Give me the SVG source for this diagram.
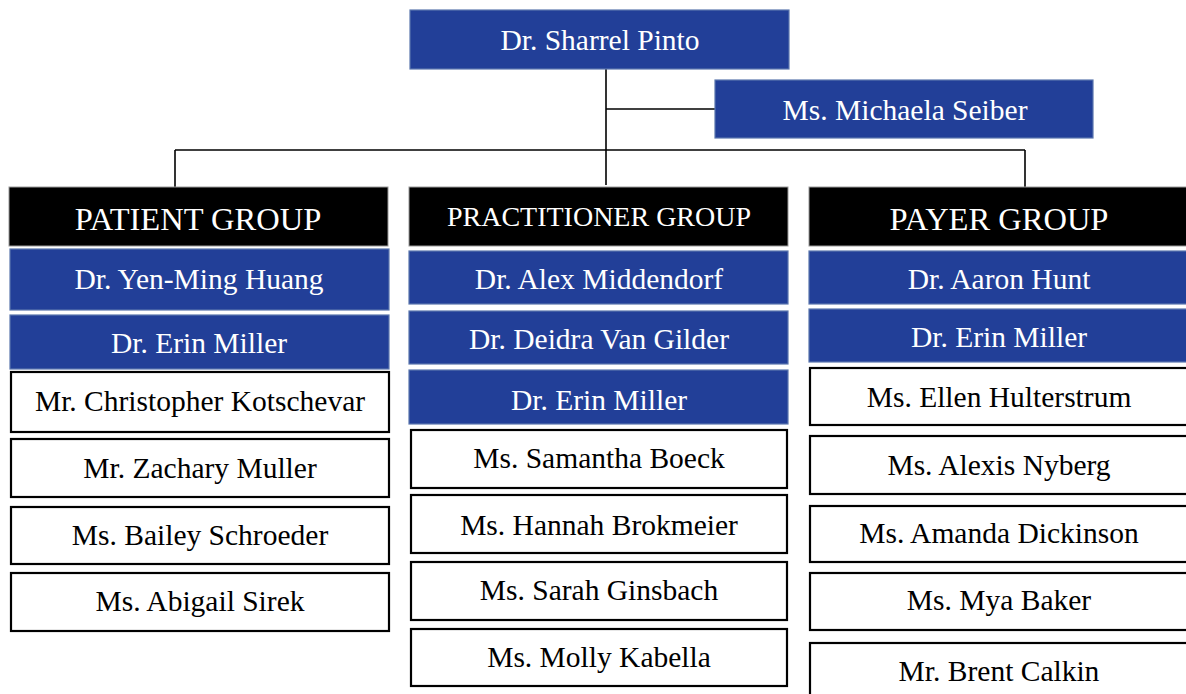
<svg xmlns="http://www.w3.org/2000/svg" width="1186" height="694" viewBox="0 0 1186 694">
<style>
text{font-family:"Liberation Serif","Times New Roman",serif;text-anchor:middle}
.b rect{fill:#223f98;stroke:#5a76ad;stroke-width:1.2}
.b text{fill:#fff;font-size:29.5px}
.h rect{fill:#000;stroke:#999;stroke-width:1}
.h text{fill:#fff;font-size:32.5px}
.w rect{fill:#fff;stroke:#000;stroke-width:2.2}
.w text{fill:#000;font-size:29.5px}
.c line{stroke:#000;stroke-width:1.6}
</style>
<rect width="1186" height="694" fill="#fff"/>
<g class="c" id="connectors">
<line x1="606" y1="69" x2="606" y2="185"/>
<line x1="606" y1="109" x2="715" y2="109"/>
<line x1="175" y1="150" x2="1025" y2="150"/>
<line x1="175" y1="150" x2="175" y2="187"/>
<line x1="1025" y1="150" x2="1025" y2="187"/>
</g>
<g id="n-pinto" class="b"><rect x="410" y="10" width="379" height="59"/><text x="600" y="50">Dr. Sharrel Pinto</text></g>
<g id="n-seiber" class="b"><rect x="715" y="80" width="378" height="58"/><text x="905" y="120">Ms. Michaela Seiber</text></g>

<g id="h-patient" class="h"><rect x="9" y="187" width="379" height="59"/><text x="198" y="230">PATIENT GROUP</text></g>
<g id="n-huang" class="b"><rect x="10" y="249" width="379" height="61"/><text x="199" y="289">Dr. Yen-Ming Huang</text></g>
<g id="n-miller1" class="b"><rect x="10" y="315" width="379" height="54"/><text x="199" y="353">Dr. Erin Miller</text></g>
<g id="n-kotschevar" class="w"><rect x="11" y="372" width="378" height="60"/><text x="200" y="411">Mr. Christopher Kotschevar</text></g>
<g id="n-muller" class="w"><rect x="11" y="439" width="378" height="58"/><text x="200" y="478">Mr. Zachary Muller</text></g>
<g id="n-schroeder" class="w"><rect x="11" y="507" width="378" height="57"/><text x="200" y="545">Ms. Bailey Schroeder</text></g>
<g id="n-sirek" class="w"><rect x="11" y="573" width="378" height="58"/><text x="200" y="611">Ms. Abigail Sirek</text></g>

<g id="h-practitioner" class="h"><rect x="409" y="187" width="379" height="59"/><text x="599" y="226" style="font-size:28px">PRACTITIONER GROUP</text></g>
<g id="n-middendorf" class="b"><rect x="409" y="251" width="379" height="53"/><text x="599" y="289">Dr. Alex Middendorf</text></g>
<g id="n-vangilder" class="b"><rect x="409" y="311" width="379" height="53"/><text x="599" y="349">Dr. Deidra Van Gilder</text></g>
<g id="n-miller2" class="b"><rect x="409" y="370" width="379" height="54"/><text x="599" y="410">Dr. Erin Miller</text></g>
<g id="n-boeck" class="w"><rect x="411" y="430" width="376" height="58"/><text x="599" y="468">Ms. Samantha Boeck</text></g>
<g id="n-brokmeier" class="w"><rect x="411" y="495" width="376" height="58"/><text x="599" y="535">Ms. Hannah Brokmeier</text></g>
<g id="n-ginsbach" class="w"><rect x="411" y="562" width="376" height="58"/><text x="599" y="600">Ms. Sarah Ginsbach</text></g>
<g id="n-kabella" class="w"><rect x="411" y="629" width="376" height="57"/><text x="599" y="667">Ms. Molly Kabella</text></g>

<g id="h-payer" class="h"><rect x="809" y="187" width="380" height="59"/><text x="999" y="230">PAYER GROUP</text></g>
<g id="n-hunt" class="b"><rect x="809" y="251" width="380" height="53"/><text x="999" y="289">Dr. Aaron Hunt</text></g>
<g id="n-miller3" class="b"><rect x="809" y="309" width="380" height="53"/><text x="999" y="347">Dr. Erin Miller</text></g>
<g id="n-hulterstrum" class="w"><rect x="810" y="368" width="378" height="57"/><text x="999" y="407">Ms. Ellen Hulterstrum</text></g>
<g id="n-nyberg" class="w"><rect x="810" y="436" width="378" height="58"/><text x="999" y="475">Ms. Alexis Nyberg</text></g>
<g id="n-dickinson" class="w"><rect x="810" y="506" width="378" height="56"/><text x="999" y="543">Ms. Amanda Dickinson</text></g>
<g id="n-baker" class="w"><rect x="810" y="573" width="378" height="57"/><text x="999" y="610">Ms. Mya Baker</text></g>
<g id="n-calkin" class="w"><rect x="810" y="643" width="378" height="60"/><text x="999" y="681">Mr. Brent Calkin</text></g>
</svg>
